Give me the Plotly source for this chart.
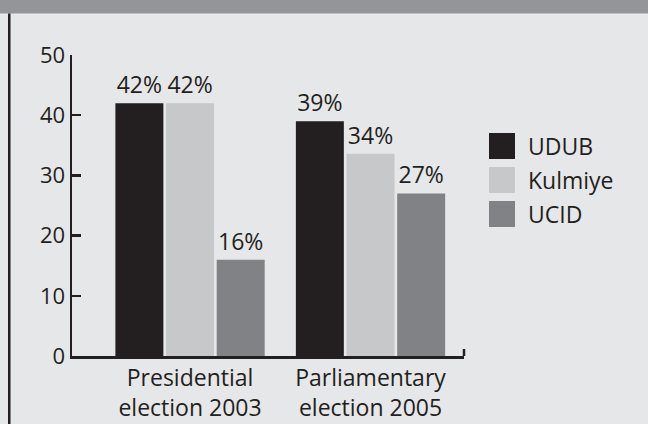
import plotly.graph_objects as go

categories = ["Presidential<br>election 2003", "Parliamentary<br>election 2005"]
parties = ["UDUB", "Kulmiye", "UCID"]
udub = [42, 39]
kulmiye = [42, 33.6]
ucid = [16, 27]
series = [udub, kulmiye, ucid]
colors = ["#231f20", "#c7c8ca", "#808285"]
y_ticks = [0, 10, 20, 30, 40, 50]

W, H = 648, 424
L, R, T, B = 72, 184, 55, 68
PW, PH = W - L - R, H - T - B
TXT = "#231f20"
FONT = "Open Sans"

def px(x):
    return (x - L) / PW

def py(y):
    return (H - B - y) / PH

fig = go.Figure()
for name, vals, col in zip(parties, series, colors):
    fig.add_trace(go.Bar(
        x=list(range(len(categories))), y=vals, name=name,
        marker=dict(color=col, line=dict(width=0)),
        texttemplate="%{y:.0f}%", textposition="outside",
        textfont=dict(family=FONT, size=23, color=TXT),
        constraintext="none", cliponaxis=False, showlegend=False, hoverinfo="skip",
    ))

shapes = [
    dict(type="rect", xref="paper", yref="paper", x0=px(0), x1=px(W), y0=py(0), y1=py(13.5),
         fillcolor="#939598", line=dict(width=0), layer="below"),
    dict(type="rect", xref="paper", yref="paper", x0=px(8), x1=px(10.5), y0=py(13.5), y1=py(H),
         fillcolor="#231f20", line=dict(width=0)),
    dict(type="line", xref="paper", yref="paper", x0=1, x1=1, y0=0, y1=py(349),
         line=dict(color=TXT, width=2.5)),
]
annotations = []
for i, (name, col) in enumerate(zip(parties, colors)):
    top = 133 + 34 * i
    shapes.append(dict(type="rect", xref="paper", yref="paper", x0=px(489), x1=px(515),
                       y0=py(top + 26), y1=py(top), fillcolor=col, line=dict(width=0)))
    annotations.append(dict(xref="paper", yref="paper", x=px(526), y=py(top + 13), text=name,
                            showarrow=False, xanchor="left", yanchor="middle",
                            font=dict(family=FONT, size=23, color=TXT)))

fig.update_layout(
    width=W, height=H,
    margin=dict(l=L, r=R, t=T, b=B, pad=0, autoexpand=False),
    paper_bgcolor="#e6e7e8", plot_bgcolor="#e6e7e8",
    barmode="group", bargap=0.158, bargroupgap=0.053,
    font=dict(family=FONT, size=23, color=TXT),
    xaxis=dict(range=[-0.654, 1.518], tickvals=list(range(len(categories))), ticktext=categories,
               showgrid=False, zeroline=False, showline=True, linecolor=TXT, linewidth=2.5,
               ticks="", automargin=False,
               tickfont=dict(family=FONT, size=23, color=TXT), fixedrange=True),
    yaxis=dict(range=[0, 50], tickvals=y_ticks, showgrid=False, zeroline=False, automargin=False,
               showline=True, linecolor=TXT, linewidth=2.5, ticks="inside", ticklen=9,
               tickwidth=2.5, tickcolor=TXT, tickfont=dict(family=FONT, size=22, color=TXT),
               fixedrange=True),
    shapes=shapes, annotations=annotations,
)

fig.write_html("out.html", config={"displayModeBar": False, "staticPlot": True},
               post_script="document.body.style.margin='0';document.body.style.overflow='hidden';")
